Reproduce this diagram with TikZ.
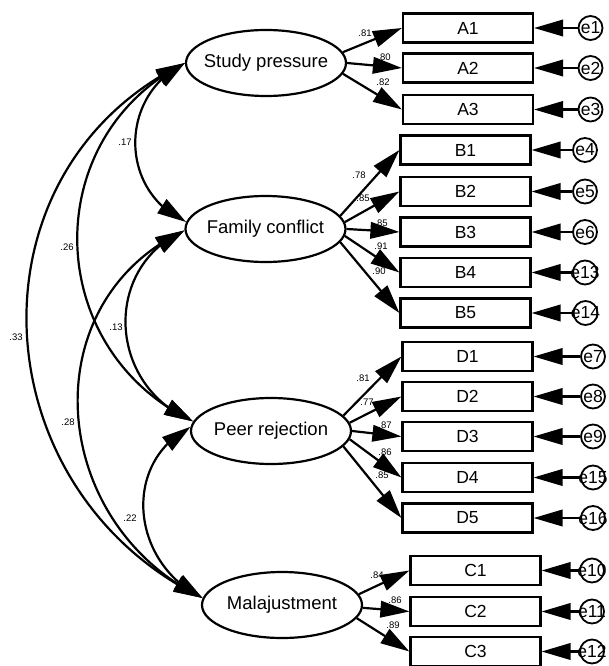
\documentclass[tikz,border=0pt]{standalone}
\usepackage{fontspec}
\setmainfont{Liberation Sans}
\usetikzlibrary{shapes.geometric,arrows.meta,bending}
\begin{document}
\begin{tikzpicture}[x=1pt,y=-1pt,
  lat/.style={ellipse,draw,line width=2.2pt,minimum width=160pt,minimum height=66pt,inner sep=0pt},
  lattext/.style={font=\fontsize{18.5}{22}\selectfont},
  obs/.style={rectangle,draw,line width=2.2pt,minimum width=130pt,minimum height=29pt,inner sep=0pt,font=\fontsize{17.5}{20}\selectfont},
  err/.style={circle,draw,line width=1.8pt,minimum size=24pt,inner sep=0pt},
  errtext/.style={font=\fontsize{17.5}{20}\selectfont,inner sep=0pt},
  coef/.style={font=\fontsize{9.5}{11}\selectfont,inner sep=0pt},
  arr/.style={line width=2.2pt,-{Triangle[length=29pt,width=16.5pt]}},
  cov/.style={line width=2.2pt,{Triangle[length=29pt,width=16.5pt]}-{Triangle[length=29pt,width=16.5pt]}},
]
\fill[white] (0,0) rectangle (609,666);
\useasboundingbox (0,0) rectangle (609,666);

% latent variables
\node[lat,label={[lattext]center:Study pressure}] (sp) at (266,63) {};
\node[lat,label={[lattext]center:Family conflict}] (fc) at (265.5,229) {};
\node[lat,label={[lattext]center:Peer rejection}] (pr) at (271,431) {};
\node[lat,label={[lattext]center:Malajustment}] (ma) at (282,605) {};

% observed variables
\node[obs] (a1) at (468,28) {A1};
\node[obs] (a2) at (468,68) {A2};
\node[obs] (a3) at (468,109.5) {A3};
\node[obs] (b1) at (465.5,150) {B1};
\node[obs] (b2) at (465.5,191.5) {B2};
\node[obs] (b3) at (465.5,232) {B3};
\node[obs] (b4) at (465.5,272.5) {B4};
\node[obs] (b5) at (465.5,313) {B5};
\node[obs] (d1) at (467.5,356.5) {D1};
\node[obs] (d2) at (467.5,396.5) {D2};
\node[obs] (d3) at (467.5,436.5) {D3};
\node[obs] (d4) at (467.5,477.5) {D4};
\node[obs] (d5) at (467.5,518) {D5};
\node[obs] (c1) at (475.5,570.5) {C1};
\node[obs] (c2) at (475.5,611.5) {C2};
\node[obs] (c3) at (475.5,651.5) {C3};

% error terms
\node[err,label={[errtext]center:e1}] (e1) at (590.5,28) {};
\node[err,label={[errtext]center:e2}] (e2) at (590.5,68) {};
\node[err,label={[errtext]center:e3}] (e3) at (590.5,109.5) {};
\node[err,label={[errtext]center:e4}] (e4) at (585,150) {};
\node[err,label={[errtext]center:e5}] (e5) at (585,191.5) {};
\node[err,label={[errtext]center:e6}] (e6) at (585,232) {};
\node[err,label={[errtext]center:e13}] (e13) at (585,272.5) {};
\node[err,label={[errtext]center:e14}] (e14) at (585.5,313) {};
\node[err,label={[errtext]center:e7}] (e7) at (593,356.5) {};
\node[err,label={[errtext]center:e8}] (e8) at (593,396.5) {};
\node[err,label={[errtext]center:e9}] (e9) at (593,436.5) {};
\node[err,label={[errtext]center:e15}] (e15) at (593,477.5) {};
\node[err,label={[errtext]center:e16}] (e16) at (593,518) {};
\node[err,label={[errtext]center:e10}] (e10) at (592,570.5) {};
\node[err,label={[errtext]center:e11}] (e11) at (592,611.5) {};
\node[err,label={[errtext]center:e12}] (e12) at (592,651.5) {};

% loadings
\draw[arr] (sp.8) -- (a1.west);
\draw[arr] (sp.0) -- (a2.west);
\draw[arr] (sp.-8) -- (a3.west);
\draw[arr] (fc.10) -- (b1.west);
\draw[arr] (fc.5) -- (b2.west);
\draw[arr] (fc.0) -- (b3.west);
\draw[arr] (fc.-5) -- (b4.west);
\draw[arr] (fc.-10) -- (b5.west);
\draw[arr] (pr.12) -- (d1.west);
\draw[arr] (pr.6) -- (d2.west);
\draw[arr] (pr.0) -- (d3.west);
\draw[arr] (pr.-6) -- (d4.west);
\draw[arr] (pr.-12) -- (d5.west);
\draw[arr] (ma.8) -- (c1.west);
\draw[arr] (ma.-2) -- (c2.west);
\draw[arr] (ma.-10) -- (c3.west);

% error arrows
\foreach \e/\b in {e1/a1,e2/a2,e3/a3,e4/b1,e5/b2,e6/b3,e13/b4,e14/b5,e7/d1,e8/d2,e9/d3,e15/d4,e16/d5,e10/c1,e11/c2,e12/c3}
  \draw[arr] (\e) -- (\b.east);

% covariances
\draw[cov] (sp.west) .. controls (119,95) and (118,191) .. (fc.175);
\draw[cov] (sp.west) .. controls (38,138) and (42,349) .. (pr.173);
\draw[cov] (sp.west) .. controls (-37,171) and (-21,489) .. (ma.175);
\draw[cov] (fc.181) .. controls (102,267) and (107,386) .. (pr.173);
\draw[cov] (fc.181) .. controls (31,303) and (48,523) .. (ma.175);
\draw[cov] (pr.177) .. controls (120,464) and (132,564) .. (ma.175);

% loading labels
\node[coef] (l1) at (365,33) {.81};
\node[coef] (l2) at (384,57) {.80};
\node[coef] (l3) at (383,82) {.82};
\node[coef] (l4) at (359,175) {.78};
\node[coef] (l5) at (363,198) {.85};
\node[coef] (l6) at (381,223) {.85};
\node[coef] (l7) at (381,246) {.91};
\node[coef] (l8) at (379,271) {.90};
\node[coef] (l9) at (363,378) {.81};
\node[coef] (l10) at (367,402) {.77};
\node[coef] (l11) at (385,425) {.87};
\node[coef] (l12) at (385,452) {.86};
\node[coef] (l13) at (382,475) {.85};
\node[coef] (l14) at (377,575) {.84};
\node[coef] (l15) at (395,600) {.86};
\node[coef] (l16) at (393,625) {.89};

% covariance labels
\node[coef] (k1) at (125,142) {.17};
\node[coef] (k2) at (67,247) {.26};
\node[coef] (k3) at (16,337) {.33};
\node[coef] (k4) at (116,327) {.13};
\node[coef] (k5) at (68,422) {.28};
\node[coef] (k6) at (130,518) {.22};
\end{tikzpicture}
\end{document}
